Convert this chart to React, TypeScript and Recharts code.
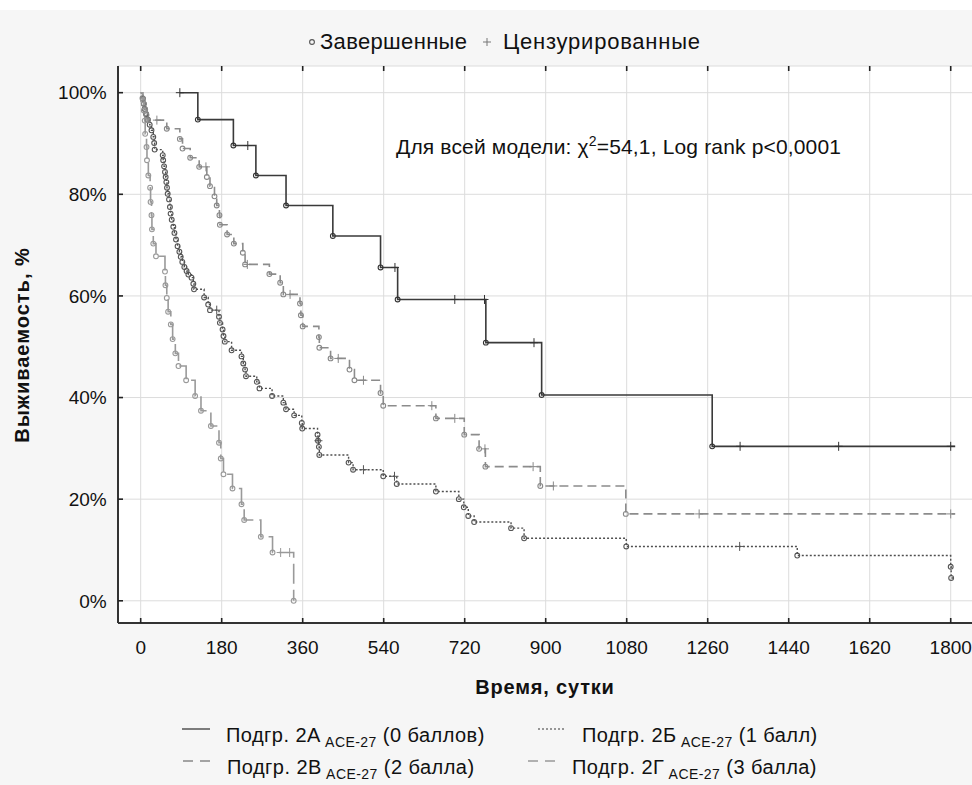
import React from 'react';
import { LineChart, Line, XAxis, YAxis, CartesianGrid } from 'recharts';

// [time in days, survival %, mark]  mark: 'd' = event (circle), 'c' = censored (+), '' = none
type Pt = [number, number, string];

const xTicks = [0, 180, 360, 540, 720, 900, 1080, 1260, 1440, 1620, 1800];
const yTicks = [0, 20, 40, 60, 80, 100];
// small ticks of the unlabeled right-hand axis
const rightTicks = [100.9, 83.5, 65.8, 48.1, 30.7, 13.2];

const group2A: Pt[] = [
  [87, 100, 'c'], [127, 94.7, 'd'], [206, 89.6, 'd'], [238, 89.6, 'c'], [256, 83.7, 'd'],
  [323, 77.8, 'd'], [427, 71.8, 'd'], [533, 65.6, 'd'], [565, 65.6, 'c'], [571, 59.3, 'd'],
  [698, 59.3, 'c'], [764, 59.3, 'c'], [767, 50.8, 'd'], [874, 50.8, 'c'], [891, 40.5, 'd'],
  [1270, 30.4, 'd'], [1332, 30.4, 'c'], [1551, 30.4, 'c'], [1800, 30.4, 'c'], [1810, 30.4, ''],
];

const group2B: Pt[] = [
  [0, 100, ''], [5, 98.8, 'd'], [7, 97.8, 'd'], [9, 96.8, 'd'], [12, 95.8, 'd'], [16, 94.7, 'd'],
  [20, 93.7, 'd'], [24, 92.6, 'd'], [28, 91.3, 'd'], [30, 90.1, 'd'], [31, 88.8, 'd'],
  [49, 87.7, 'd'], [50, 86.7, 'd'], [52, 85.5, 'd'], [54, 84.4, 'd'], [55.5, 83.4, 'd'],
  [57, 82.4, 'd'], [58.5, 81.3, 'd'], [60, 80.1, 'd'], [63, 79.0, 'd'], [65, 77.5, 'd'],
  [66.5, 76.2, 'd'], [69, 75.0, 'd'], [72.5, 73.6, 'd'], [75, 72.4, 'd'], [78.5, 71.1, 'd'],
  [82, 69.8, 'd'], [86, 68.7, 'd'], [89, 67.7, 'd'], [92.5, 66.7, 'd'], [97, 65.7, 'd'],
  [102, 64.9, 'd'], [106, 64.2, 'd'], [113, 63.6, 'd'], [117, 62.4, 'd'], [118.5, 61.3, 'd'],
  [141, 59.7, 'd'], [150, 58.3, 'd'], [154, 57.2, 'd'], [169, 57.2, 'c'], [174, 55.9, 'd'],
  [176, 54.7, 'd'], [182, 53.4, 'd'], [184, 52.1, 'd'], [187, 51.0, 'd'], [202, 49.3, 'd'],
  [224, 48.1, 'd'], [228, 46.7, 'd'], [232, 45.5, 'd'], [234, 44.2, 'd'], [258, 43.1, 'd'],
  [264, 41.8, 'd'], [292, 40.3, 'd'], [317, 39.0, 'd'], [323, 37.7, 'd'], [341, 36.5, 'd'],
  [358, 35.0, 'd'], [359, 33.9, 'd'], [393, 32.7, 'd'], [394, 31.5, 'd'], [395, 31.5, 'c'],
  [396, 30.3, 'd'], [397, 28.7, 'd'], [462, 27.2, 'd'], [472, 25.8, 'd'], [495, 25.8, 'c'],
  [539, 24.5, 'd'], [564, 24.5, 'c'], [569, 23.0, 'd'], [656, 21.5, 'd'], [707, 20.0, 'd'],
  [718, 18.4, 'd'], [728, 16.7, 'd'], [741, 15.5, 'd'], [823, 14.3, 'd'], [852, 12.3, 'd'],
  [1079, 10.7, 'd'], [1331, 10.7, 'c'], [1459, 8.9, 'd'], [1800, 6.7, 'd'], [1801, 4.5, 'd'],
  [1808, 4.5, ''],
];

const group2V: Pt[] = [
  [0, 100, ''], [4, 98.9, 'd'], [7, 97.8, 'd'], [10, 96.7, 'd'], [13, 95.6, 'd'], [16, 94.6, 'd'],
  [36, 94.6, 'c'], [58, 92.9, 'd'], [87, 90.9, 'd'], [93, 89.0, 'd'], [110, 87.2, 'd'],
  [130, 85.4, 'd'], [145, 85.4, 'c'], [147, 83.4, 'd'], [154, 81.6, 'd'], [164, 79.6, 'd'],
  [169, 77.8, 'd'], [175, 75.9, 'd'], [176, 74.0, 'd'], [192, 72.1, 'd'], [207, 70.3, 'd'],
  [227, 68.5, 'd'], [232, 66.2, 'd'], [237, 66.2, 'c'], [286, 64.3, 'd'], [310, 62.6, 'd'],
  [317, 60.3, 'd'], [332, 60.3, 'c'], [354, 58.5, 'd'], [356, 56.2, 'd'], [360, 54.0, 'd'],
  [396, 51.9, 'd'], [397, 49.8, 'd'], [422, 47.7, 'd'], [439, 47.7, 'c'], [464, 45.5, 'd'],
  [475, 43.4, 'd'], [495, 43.4, 'c'], [533, 40.9, 'd'], [539, 38.4, 'd'], [647, 38.4, 'c'],
  [656, 35.9, 'd'], [698, 35.9, 'c'], [719, 32.7, 'd'], [752, 29.9, 'd'], [765, 29.9, 'c'],
  [766, 26.4, 'd'], [872, 26.4, 'c'], [888, 22.6, 'd'], [917, 22.6, 'c'], [1078, 17.1, 'd'],
  [1241, 17.1, 'c'], [1800, 17.1, 'c'], [1810, 17.1, ''],
];

const group2G: Pt[] = [
  [0, 100, ''], [5, 98.5, 'd'], [7, 96.5, 'd'], [9, 94.5, 'd'], [10, 91.9, 'd'], [13, 89.3, 'd'],
  [14, 86.7, 'd'], [17, 83.7, 'd'], [21, 81.3, 'd'], [22, 78.5, 'd'], [24, 75.9, 'd'],
  [25, 73.1, 'd'], [28, 70.3, 'd'], [34, 67.8, 'd'], [54, 64.8, 'd'], [55, 62.1, 'd'],
  [58, 59.6, 'd'], [61, 56.9, 'd'], [67, 54.4, 'd'], [71, 51.5, 'd'], [77, 48.7, 'd'],
  [84, 46.2, 'd'], [101, 43.4, 'd'], [121, 40.3, 'd'], [134, 37.4, 'd'], [156, 34.4, 'd'],
  [174, 31.1, 'd'], [178, 28.0, 'd'], [184, 24.9, 'd'], [204, 22.1, 'd'], [224, 19.0, 'd'],
  [230, 15.9, 'd'], [267, 12.6, 'd'], [293, 9.5, 'd'], [311, 9.5, 'c'], [331, 9.5, 'c'],
  [340, 0, 'd'],
];

const FONT = '"Liberation Sans", Arial, sans-serif';
const FRAME_LEFT = 118;
const FRAME_TOP = 66;
const FRAME_BOTTOM = 623;
const FRAME_RIGHT = 976;
const X_DOMAIN: [number, number] = [-50.4, 1856.2];
const Y_DOMAIN: [number, number] = [-4.37, 105.25];

const toRows = (pts: Pt[]) => pts.map(([t, s, k]) => ({ t, s, k }));

const marks = (color: string) => (p: any) => {
  const { cx, cy, payload, index } = p;
  if (payload.k === 'd')
    return <circle key={index} cx={cx} cy={cy} r={2.4} fill="none" stroke={color} strokeWidth={1.1} />;
  if (payload.k === 'c')
    return (
      <path key={index} d={`M${cx - 4},${cy}H${cx + 4}M${cx},${cy - 4.5}V${cy + 4.5}`} stroke={color} strokeWidth={1} />
    );
  return <g key={index} />;
};

const XTick = (props: any) => {
  const { x, payload } = props;
  return (
    <g>
      <line x1={x} x2={x} y1={FRAME_BOTTOM} y2={FRAME_BOTTOM - 5} stroke="#222" strokeWidth={1.6} />
      <line x1={x} x2={x} y1={FRAME_TOP} y2={FRAME_TOP + 5} stroke="#222" strokeWidth={1.6} />
      <text x={x} y={654} textAnchor="middle" fontSize={19} fontFamily={FONT} fill="#111">
        {payload.value}
      </text>
    </g>
  );
};

const YTick = (props: any) => {
  const { y, payload } = props;
  return (
    <g>
      <line x1={FRAME_LEFT} x2={FRAME_LEFT + 5} y1={y} y2={y} stroke="#222" strokeWidth={1.6} />
      <text x={106.7} y={y + 6.8} textAnchor="end" fontSize={19} fontFamily={FONT} fill="#111">
        {payload.value}%
      </text>
    </g>
  );
};

const RTick = (props: any) => {
  const { y } = props;
  return <line x1={FRAME_RIGHT - 5} x2={FRAME_RIGHT} y1={y} y2={y} stroke="#222" strokeWidth={1.6} />;
};

const series = [
  { key: '2A', data: group2A, color: '#3a3a3a', dot: '#333', width: 1.6, dash: undefined },
  { key: '2B', data: group2B, color: '#4f4f4f', dot: '#555', width: 1.4, dash: '2 2' },
  { key: '2V', data: group2V, color: '#8c8c8c', dot: '#888', width: 1.6, dash: '9 5' },
  { key: '2G', data: group2G, color: '#9a9a9a', dot: '#999', width: 1.6, dash: '20 6' },
];

const LegendItem = ({ x, y, dash, color, name, tail }: any) => (
  <g>
    <line x1={x} x2={x + 28} y1={y - 6} y2={y - 6} stroke={color} strokeWidth={1.3} strokeDasharray={dash} />
    <text x={x + 44} y={y + 7} fontSize={20} letterSpacing={0.45} fontFamily={FONT} fill="#111">
      {name}
      <tspan fontSize={14} dy={5}> ACE-27</tspan>
      <tspan dy={-5}> {tail}</tspan>
    </text>
  </g>
);

export default function App() {
  return (
    <div
      style={{
        position: 'fixed',
        left: 0,
        top: 0,
        width: 972,
        height: 785,
        overflow: 'hidden',
        background: '#f6f6f6',
      }}
    >
      <div style={{ position: 'absolute', left: 0, top: 0, width: 972, height: 10, background: '#fff' }} />
      <div style={{ position: 'absolute', left: 0, top: 0 }}>
        <LineChart width={FRAME_RIGHT} height={785} margin={{ top: FRAME_TOP, right: 0, bottom: 0, left: 0 }}>
          <CartesianGrid stroke="#dcdcdc" strokeWidth={1} fill="#fff" fillOpacity={1} />
          <XAxis
            xAxisId={0}
            type="number"
            dataKey="t"
            domain={X_DOMAIN}
            allowDataOverflow
            ticks={xTicks}
            interval={0}
            tick={<XTick />}
            tickLine={false}
            axisLine={{ stroke: '#333', strokeWidth: 2 }}
            height={785 - FRAME_BOTTOM}
          />
          <XAxis
            xAxisId="top"
            orientation="top"
            type="number"
            domain={X_DOMAIN}
            allowDataOverflow
            tick={false}
            tickLine={false}
            axisLine={{ stroke: '#333', strokeWidth: 2 }}
            height={0}
          />
          <YAxis
            yAxisId={0}
            type="number"
            domain={Y_DOMAIN}
            allowDataOverflow
            ticks={yTicks}
            interval={0}
            tick={<YTick />}
            tickLine={false}
            axisLine={{ stroke: '#333', strokeWidth: 2 }}
            width={FRAME_LEFT}
          />
          <YAxis
            yAxisId="r"
            orientation="right"
            type="number"
            domain={Y_DOMAIN}
            allowDataOverflow
            ticks={rightTicks}
            interval={0}
            tick={<RTick />}
            tickLine={false}
            axisLine={{ stroke: '#333', strokeWidth: 2 }}
            width={0}
          />
          {series.map((s) => (
            <Line
              key={s.key}
              xAxisId={0}
              yAxisId={0}
              data={toRows(s.data)}
              dataKey="s"
              type="stepAfter"
              stroke={s.color}
              strokeWidth={s.width}
              strokeDasharray={s.dash}
              dot={marks(s.dot)}
              activeDot={false}
              isAnimationActive={false}
            />
          ))}
        </LineChart>
      </div>
      <svg
        width={972}
        height={785}
        style={{ position: 'absolute', left: 0, top: 0, pointerEvents: 'none' }}
      >
        {/* top legend */}
        <circle cx={312} cy={42} r={2.4} fill="none" stroke="#555" strokeWidth={1.1} />
        <text x={320} y={49} fontSize={22} textLength={147} lengthAdjust="spacing" fontFamily={FONT} fill="#111">
          Завершенные
        </text>
        <path d="M483,42H491M487,38V46" stroke="#777" strokeWidth={1} />
        <text x={503} y={49} fontSize={22} textLength={197} lengthAdjust="spacing" fontFamily={FONT} fill="#111">
          Цензурированные
        </text>

        {/* model statistics */}
        <text x={396} y={154} fontSize={21} letterSpacing={0.16} fontFamily={FONT} fill="#111">
          Для всей модели: χ<tspan fontSize={14} dy={-8}>2</tspan>
          <tspan dy={8}>=54,1, Log rank p&lt;0,0001</tspan>
        </text>

        {/* axis titles */}
        <text
          x={545}
          y={694}
          textAnchor="middle"
          fontSize={20}
          letterSpacing={0.8}
          fontWeight="bold"
          fontFamily={FONT}
          fill="#111"
        >
          Время, сутки
        </text>
        <text
          x={29}
          y={345}
          textAnchor="middle"
          fontSize={20}
          letterSpacing={1}
          fontWeight="bold"
          fontFamily={FONT}
          fill="#111"
          transform="rotate(-90 29 345)"
        >
          Выживаемость, %
        </text>

        {/* bottom legend */}
        <LegendItem x={182} y={735} color="#3a3a3a" name="Подгр. 2А" tail="(0 баллов)" />
        <LegendItem x={538} y={735} color="#777" dash="2 2" name="Подгр. 2Б" tail="(1 балл)" />
        <LegendItem x={183} y={767} color="#888" dash="10 7" name="Подгр. 2В" tail="(2 балла)" />
        <LegendItem x={528} y={767} color="#999" dash="10 7" name="Подгр. 2Г" tail="(3 балла)" />
      </svg>
    </div>
  );
}
